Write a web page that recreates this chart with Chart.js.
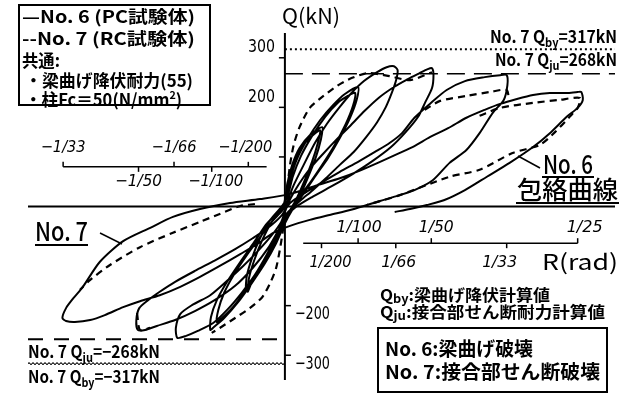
<!DOCTYPE html>
<html><head><meta charset="utf-8">
<script src="https://cdn.jsdelivr.net/npm/chart.js@4.4.1/dist/chart.umd.min.js"></script>
<style>html,body{margin:0;padding:0;background:#fff}canvas{display:block}</style>
</head><body>
<canvas id="c" width="629" height="403"></canvas>
<script>
// R in 1e-3 rad, Q in kN
const no6_c1a = [[0,-1],[0.3,43],[1.0,84],[2.0,118],[3.4,144],[5.1,160],[4.9,134],[4.2,98],[3.1,57],[1.9,17],[0.7,-11],[-0.4,-39],[-1.6,-80],[-3.1,-118],[-4.5,-152],[-5.1,-172],[-4.9,-144],[-4.2,-109],[-3.1,-68],[-1.8,-31],[-0.4,-7]];
const no6_c1b = [[0,13],[0.4,49],[1.2,88],[2.3,120],[3.7,142],[4.8,154],[4.5,128],[3.7,90],[2.6,49],[1.5,13],[0.4,-15],[-0.7,-47],[-1.9,-86],[-3.3,-120],[-4.5,-148],[-5.3,-166],[-5.2,-140],[-4.5,-104],[-3.4,-64],[-2.0,-27],[-0.5,-1]];
const no6_c2a = [[0.1,13],[0.7,53],[1.6,94],[3.0,134],[4.8,174],[6.6,205],[8.2,227],[10.0,241],[9.8,215],[8.9,179],[7.5,138],[5.9,98],[4.1,60],[2.5,25],[1.0,-7],[-0.1,-37],[-1.2,-74],[-2.7,-114],[-4.5,-154],[-6.4,-193],[-8.3,-225],[-9.7,-243],[-10.2,-249],[-10.1,-223],[-9.3,-189],[-7.9,-152],[-6.1,-112],[-4.2,-72],[-2.5,-35],[-0.7,-7]];
const no6_c2b = [[0.4,23],[1.1,61],[2.2,102],[3.7,142],[5.5,181],[7.2,209],[8.6,223],[9.6,229],[9.3,203],[8.3,166],[6.8,124],[5.1,84],[3.3,45],[1.6,13],[0.4,-17],[-0.8,-51],[-2.0,-88],[-3.5,-128],[-5.3,-168],[-7.1,-203],[-8.6,-225],[-9.3,-233],[-9.1,-209],[-8.3,-174],[-7.0,-138],[-5.3,-100],[-3.5,-64],[-1.8,-31],[-0.3,-7]];
const no6_c3 = [[0.4,13],[1.2,43],[2.5,82],[4.1,128],[5.7,166],[7.5,201],[9.1,229],[10.8,253],[12.6,271],[13.9,281],[14.9,283],[15.4,275],[15.2,255],[14.6,229],[13.8,201],[12.6,170],[11.1,140],[9.4,110],[7.5,84],[5.6,57],[3.8,33],[2.2,13],[1.0,-3],[0,-19],[-1.1,-57],[-2.5,-98],[-4.1,-138],[-5.9,-174],[-7.8,-207],[-9.8,-235],[-11.9,-251],[-13.5,-261],[-14.7,-265],[-14.9,-245],[-14.3,-217],[-12.7,-199],[-10.2,-179],[-7.9,-150],[-5.7,-120],[-3.7,-90],[-1.9,-60],[-0.5,-31],[0.1,-7]];
const no6_c4 = [[0.8,17],[1.9,45],[3.4,76],[5.2,106],[7.1,136],[9.0,164],[10.9,193],[12.8,219],[14.9,241],[16.8,257],[18.4,269],[19.5,277],[20.1,279],[20.3,265],[20.1,239],[19.2,211],[18.2,181],[16.5,150],[14.5,120],[12.0,92],[9.3,66],[6.4,41],[3.7,19],[1.5,-1],[0.4,-17],[-0.7,-43],[-2.3,-84],[-4.4,-124],[-6.8,-160],[-9.6,-189],[-12.3,-211],[-15.0,-229],[-17.5,-241],[-19.1,-249],[-20.1,-249],[-20.3,-229],[-19.9,-205],[-18.7,-189],[-17.1,-172],[-15.0,-152],[-12.3,-130],[-9.6,-109],[-6.8,-86],[-4.4,-64],[-2.3,-43],[-0.5,-19]];
const no6_c5 = [[0.7,7],[2.7,27],[5.1,49],[7.5,70],[10.0,90],[12.3,110],[14.3,128],[16.0,148],[17.7,179],[19.8,207],[22.1,235],[24.6,253],[27.3,261],[29.4,265],[30.3,265],[30.4,245],[29.9,215],[28.4,189],[26.6,148],[24.8,114],[22.5,88],[20.2,53],[17.7,33],[15.7,23],[13.0,11],[11.2,3],[8.9,-7],[6.1,-17],[3.4,-27],[0.7,-39],[-1.6,-53],[-3.8,-76],[-6.1,-96],[-8.9,-120],[-11.6,-142],[-14.3,-162],[-17.1,-179],[-19.8,-191],[-22.1,-203],[-24.6,-219],[-26.6,-229],[-28.7,-233],[-29.9,-231],[-30.4,-225],[-29.9,-205],[-28.9,-185],[-27.6,-162],[-25.3,-112],[-22.1,-70],[-18.4,-43],[-15.3,-21],[-11.6,-5],[-7.5,7],[-3.4,15],[0.7,25],[4.4,43],[7.5,57]];
const no6_c6 = [[10.5,74],[13.0,90],[15.7,108],[17.7,122],[19.8,140],[22.3,158],[24.8,179],[27.3,195],[29.4,207],[31.7,217],[33.9,225],[36.2,229],[38.5,229],[40.0,231],[40.5,231],[40.7,215],[40.0,199],[38.5,181],[36.2,148],[33.9,120],[30.7,88],[27.6,60],[24.6,33],[21.8,13],[19.4,3],[17.1,-5],[15.0,-11]];

const no7_s1 = [[0,-11],[0.3,33],[0.7,84],[1.2,124],[2.0,160],[3.4,199],[5.1,221],[7.1,243],[9.1,259],[11.3,269],[14.3,263],[17.1,255],[20.1,271]];
const no7_s2 = [[19.1,195],[21.2,213],[24.8,223],[28.0,231],[30.3,235],[30.6,215]];
const no7_s3 = [[26.6,183],[29.4,199],[33.9,209],[37.5,215],[40.3,219],[40.0,199],[38.9,181],[36.9,150],[34.8,124],[31.1,108],[26.6,74],[22.5,60],[15.7,23],[11.2,3]];
const no7_s4 = [[0,-17],[-0.3,-51],[-0.7,-88],[-1.2,-124],[-2.0,-154],[-3.1,-183],[-4.8,-205],[-6.8,-225],[-8.9,-245],[-10.0,-255]];
const no7_s5 = [[-4.1,5],[-6.1,1],[-8.9,-15],[-11.6,-31],[-15.3,-53],[-19.8,-82],[-23.9,-118],[-26.6,-148],[-28.0,-168]];
const no7_s6 = [[-20.2,-215],[-19.8,-249],[-18.4,-245]];

const qBy = 317, qJu = 268;
const qTicks = [-300, -200, -100, 100, 200, 300];
const qLabelVals = [300, 200, -200, -300];
const qLabels = ['300', '200', '\u2212200', '\u2212300'];
const rPosTop = ['1/100', '1/50', '1/25'], rPosTopVal = [10, 20, 40];
const rPosBot = ['1/200', '1/66', '1/33'], rPosBotVal = [5, 15.15, 30.3];
const rNegTop = ['\u22121/33', '\u22121/66', '\u22121/200'], rNegTopVal = [-30.3, -15.15, -5];
const rNegBot = ['\u22121/50', '\u22121/100'], rNegBotVal = [-20, -10];

const XMIN = -35.1, XMAX = 45.1;
const pts = a => a.map(p => ({x: p[0], y: p[1]}));
const JP = '"Noto Sans CJK JP","Noto Sans CJK SC",sans-serif';
const NUM = '"Liberation Sans Narrow","DejaVu Sans Condensed","Liberation Sans",sans-serif';

const datasets = [];
const solid = [].concat(no6_c1a, no6_c1b, no6_c2a, no6_c2b, no6_c3, no6_c4, no6_c5, no6_c6);
datasets.push({data: pts(solid), showLine: true, borderColor: '#000', borderWidth: 2, pointRadius: 0, tension: 0.25});
[no7_s1, no7_s2, no7_s3, no7_s4, no7_s5, no7_s6].forEach(s => datasets.push({data: pts(s), showLine: true, borderColor: '#000', borderWidth: 2.2, borderDash: [7, 5], pointRadius: 0, tension: 0.25}));
datasets.push({data: pts([[0, qBy], [XMAX, qBy]]), showLine: true, borderColor: '#000', borderWidth: 2, borderDash: [2, 3], pointRadius: 0});
datasets.push({data: pts([[0, qJu], [XMAX, qJu]]), showLine: true, borderColor: '#000', borderWidth: 1.5, borderDash: [18, 9], pointRadius: 0});
datasets.push({data: pts([[XMIN, -qJu], [0, -qJu]]), showLine: true, borderColor: '#000', borderWidth: 2, borderDash: [15, 11], pointRadius: 0});
datasets.push({data: pts([[XMIN, -qBy + 1], [0, -qBy + 1]]), showLine: true, borderColor: '#000', borderWidth: 1.3, borderDash: [2, 2], pointRadius: 0});
datasets.push({data: pts([[XMIN, -qBy - 1], [0, -qBy - 1]]), showLine: true, borderColor: '#000', borderWidth: 1.3, borderDash: [2, 2], borderDashOffset: 2, pointRadius: 0});

function rich(ctx, parts, x, y, w, align) {
  let W = 0;
  for (const p of parts) { ctx.font = p[1]; W += ctx.measureText(p[0]).width; }
  const sx = w ? w / W : 1, tw = W * sx;
  let x0 = x;
  if (align === 'center') x0 = x - tw / 2; else if (align === 'right') x0 = x - tw;
  ctx.save();
  ctx.translate(x0, y); ctx.scale(sx, 1);
  ctx.textBaseline = 'middle'; ctx.textAlign = 'left'; ctx.fillStyle = '#000';
  let cx = 0;
  for (const p of parts) { ctx.font = p[1]; ctx.fillText(p[0], cx, p[2] || 0); cx += ctx.measureText(p[0]).width; }
  ctx.restore();
}
function line(c, x1, y1, x2, y2, w) { c.lineWidth = w; c.beginPath(); c.moveTo(x1, y1); c.lineTo(x2, y2); c.stroke(); }

const deco = {
  id: 'deco',
  beforeDraw(chart) { const c = chart.ctx; c.save(); c.fillStyle = '#fff'; c.fillRect(0, 0, chart.width, chart.height); c.restore(); },
  beforeDatasetsDraw(chart) {
    const c = chart.ctx, xs = chart.scales.x, ys = chart.scales.y, a = chart.chartArea;
    const X = v => xs.getPixelForValue(v), Y = v => ys.getPixelForValue(v);
    c.save(); c.strokeStyle = '#000'; c.fillStyle = '#000'; c.setLineDash([]);
    line(c, a.left, Y(0), a.right, Y(0), 2);
    line(c, X(0), a.top, X(0), a.bottom, 2);
    qTicks.forEach(t => { const d = t > 0 ? -6 : 6; line(c, X(0) + d, Y(t), X(0), Y(t), 1.5); });
    qLabelVals.forEach((v, i) => {
      if (v > 0) rich(c, [[qLabels[i], `18px ${NUM}`]], X(0) - 10, Y(v) - 10, 27, 'right');
      else rich(c, [[qLabels[i], `18px ${NUM}`]], X(0) + 10, Y(v) + 9, 35, 'left');
    });
    const rp = Y(-74), rn = Y(80);
    line(c, X(2.5), rp, X(40), rp, 1.5);
    rPosTopVal.forEach(v => line(c, X(v), rp, X(v), rp - 5, 1.5));
    rPosBotVal.forEach(v => line(c, X(v), rp, X(v), rp + 5, 1.5));
    line(c, X(-30.3), rn, X(-2.5), rn, 1.5);
    rNegTopVal.forEach(v => line(c, X(v), rn, X(v), rn - 5, 1.5));
    rNegBotVal.forEach(v => line(c, X(v), rn, X(v), rn + 5, 1.5));
    const it = `italic 16px ${NUM}`;
    const ptw = [45, 35, 36], ptn = [1, 5, 7];
    rPosTop.forEach((s, i) => rich(c, [[s, it]], X(rPosTopVal[i]) + ptn[i], rp - 15, ptw[i], 'center'));
    const pbw = [42, 35, 35], pbn = [9, 3, -7];
    rPosBot.forEach((s, i) => rich(c, [[s, it]], X(rPosBotVal[i]) + pbn[i], rp + 20, pbw[i], 'center'));
    const ntw = [45, 45, 54], ntn = [0, 0, -3];
    rNegTop.forEach((s, i) => rich(c, [[s, it]], X(rNegTopVal[i]) + ntn[i], rn - 19, ntw[i], 'center'));
    const nbw = [47, 55], nbn = [0, 4];
    rNegBot.forEach((s, i) => rich(c, [[s, it]], X(rNegBotVal[i]) + nbn[i], rn + 15, nbw[i], 'center'));
    c.restore();
  },
  afterDatasetsDraw(chart) {
    const c = chart.ctx;
    c.save(); c.strokeStyle = '#000'; c.fillStyle = '#000'; c.setLineDash([]);
    const f = `bold 17px ${JP}`, fs = `bold 12px ${JP}`;
    rich(c, [['Q(kN)', `21px ${JP}`]], 311, 16, 58, 'center');
    rich(c, [['R(rad)', `22px ${JP}`]], 580, 262, 76, 'center');
    rich(c, [['No. 7 Q', f], ['by', fs, 5], ['=317kN', f]], 617, 37, 127, 'right');
    rich(c, [['No. 7 Q', f], ['ju', fs, 5], ['=268kN', f]], 617, 60, 122, 'right');
    rich(c, [['No. 7 Q', f], ['ju', fs, 5], ['=\u2212268kN', f]], 28, 352, 132, 'left');
    rich(c, [['No. 7 Q', f], ['by', fs, 5], ['=\u2212317kN', f]], 28, 377, 132, 'left');
    rich(c, [['Q', `bold 16px ${JP}`], ['by', fs, 3], [':梁曲げ降伏計算値', `bold 16px ${JP}`]], 380, 295, 170, 'left');
    rich(c, [['Q', `bold 16px ${JP}`], ['ju', fs, 3], [':接合部せん断耐力計算値', `bold 16px ${JP}`]], 380, 312, 225, 'left');
    c.lineWidth = 2; c.strokeRect(378, 328, 229, 64);
    rich(c, [['No. 6:梁曲げ破壊', `bold 19px ${JP}`]], 385, 349, 148, 'left');
    rich(c, [['No. 7:接合部せん断破壊', `bold 19px ${JP}`]], 385, 372, 215, 'left');
    c.lineWidth = 2; c.strokeRect(19, 5, 191, 100);
    const lf = `bold 17px ${JP}`;
    rich(c, [['\u2014No. 6 (PC試験体)', lf]], 22, 17, 173, 'left');
    rich(c, [['--No. 7 (RC試験体)', lf]], 22, 39, 173, 'left');
    rich(c, [['共通:', lf]], 22, 61, 38, 'left');
    rich(c, [['・梁曲げ降伏耐力(55)', lf]], 25, 81, 168, 'left');
    rich(c, [['・柱Fc＝50(N/mm', lf], ['2', `bold 11px ${JP}`, -5], [')', lf]], 25, 100, 157, 'left');
    rich(c, [['No. 7', `500 26px ${JP}`]], 35, 231, 53, 'left');
    line(c, 35, 245, 88, 245, 2);
    line(c, 100, 233, 122, 244, 1.5);
    rich(c, [['No. 6', `500 26px ${JP}`]], 543, 164, 50, 'left');
    line(c, 542, 177, 594, 177, 2);
    rich(c, [['包絡曲線', `500 25px ${JP}`]], 517, 189, 101, 'left');
    line(c, 516, 203, 619, 203, 2);
    line(c, 540, 168, 518, 156, 1.5);
    c.restore();
  }
};

new Chart(document.getElementById('c'), {
  type: 'scatter',
  data: {datasets},
  options: {
    responsive: false, animation: false, devicePixelRatio: 1,
    layout: {padding: {left: 28, right: 14, top: 33, bottom: 23}},
    scales: {
      x: {type: 'linear', min: XMIN, max: XMAX, display: false},
      y: {type: 'linear', min: -350, max: 350, display: false}
    },
    plugins: {legend: {display: false}, tooltip: {enabled: false}},
    elements: {point: {radius: 0}}
  },
  plugins: [deco]
});
</script>
</body></html>
